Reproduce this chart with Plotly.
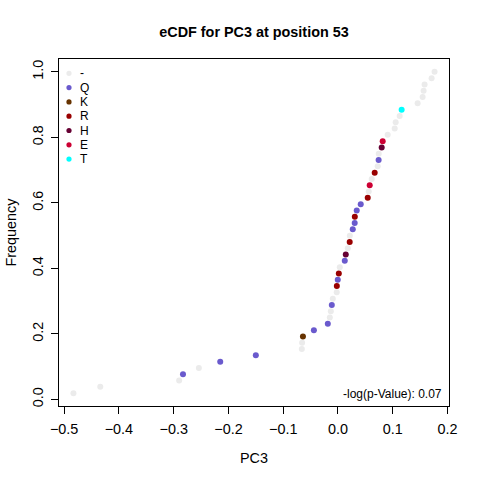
import numpy as np
import plotly.graph_objects as go

# PC3 values at position 53, sorted, with the residue seen at each
pc3 = [-0.483, -0.434, -0.290, -0.283, -0.254, -0.215, -0.150, -0.066, -0.0655, -0.064,
       -0.044, -0.0186, -0.0149, -0.0131, -0.0113, -0.0095, -0.0023, -0.0021, -0.0004, 0.0015,
       0.0033, 0.0124, 0.0142, 0.0179, 0.0214, 0.0216, 0.027, 0.0305, 0.0307, 0.0342,
       0.0415, 0.0543, 0.0561, 0.0579, 0.0616, 0.067, 0.0725, 0.0742, 0.0744, 0.0798,
       0.0816, 0.0907, 0.1035, 0.1053, 0.1126, 0.1162, 0.1454, 0.1545, 0.1563, 0.1581,
       0.1709, 0.1763]
residue = ["-", "-", "-", "Q", "-", "Q", "Q", "-", "-", "K",
           "Q", "Q", "-", "-", "Q", "-", "-", "R", "Q", "R",
           "-", "Q", "H", "-", "R", "-", "Q", "Q", "R", "Q",
           "Q", "R", "-", "E", "-", "R", "-", "Q", "-", "H",
           "E", "-", "-", "-", "-", "T", "-", "-", "-", "-",
           "-", "-"]

legend_labels = ["-", "Q", "K", "R", "H", "E", "T"]
legend_colors = ["#EBEBEB", "#6A5ACD", "#663300", "#990000", "#660033", "#CC0033", "#00FFFF"]
pvalue_text = "-log(p-Value): 0.07"

FONT = "Liberation Sans, Arial, sans-serif"

x = np.array(pc3)
order = np.argsort(x, kind="stable")
x = x[order]
res = [residue[i] for i in order]
n = len(x)
freq = np.arange(1, n + 1) / n   # empirical CDF
col_map = dict(zip(legend_labels, legend_colors))

fig = go.Figure()
fig.add_trace(go.Scatter(x=x, y=freq, mode="markers",
                         marker=dict(size=6, color=[col_map[r] for r in res], line=dict(width=0)),
                         showlegend=False, hoverinfo="x+y"))

# R-style 4% padding of the data range
xpad = 0.04 * (x.max() - x.min())
ypad = 0.04 * (freq.max() - freq.min())

L, R, T, B = 59, 31, 59, 74
W = H = 480
pw, ph = W - L - R, H - T - B

# legend (topleft, no box) drawn by hand to keep R's compact row spacing
shapes = []
annotations = []
for k, (lab, c) in enumerate(zip(legend_labels, legend_colors)):
    ypx = 73.3 + k * 14.3
    yp = 1 - (ypx - T) / ph
    xp = (69 - L) / pw
    shapes.append(dict(type="circle", xref="paper", yref="paper", xsizemode="pixel", ysizemode="pixel",
                       xanchor=xp, yanchor=yp, x0=-2.6, x1=2.6, y0=-2.6, y1=2.6,
                       fillcolor=c, line=dict(width=0)))
    annotations.append(dict(text=lab, xref="paper", yref="paper", x=(78 - L) / pw, y=yp,
                            xanchor="left", yanchor="middle", showarrow=False,
                            font=dict(family=FONT, size=12, color="black")))

annotations.append(dict(text=pvalue_text, xref="paper", yref="paper", x=(444 - L) / pw,
                        y=1 - (394 - T) / ph, xanchor="right", yanchor="middle", showarrow=False,
                        font=dict(family=FONT, size=12, color="black")))

# axis titles placed where R puts them
annotations.append(dict(text="PC3", xref="paper", yref="paper", x=0.5, y=1 - (458 - T) / ph,
                        xanchor="center", yanchor="middle", showarrow=False,
                        font=dict(family=FONT, size=14.4, color="black")))
annotations.append(dict(text="Frequency", xref="paper", yref="paper", x=(10 - L) / pw, y=0.5,
                        xanchor="center", yanchor="middle", textangle=-90, showarrow=False,
                        font=dict(family=FONT, size=14.4, color="black")))

axis_common = dict(showline=True, linecolor="black", linewidth=1, mirror=True, ticks="outside",
                   ticklen=7, tickcolor="black", tickwidth=1, showgrid=False, zeroline=False,
                   automargin=False, tickfont=dict(family=FONT, size=14.4, color="black"))

fig.update_layout(
    width=W, height=H,
    margin=dict(l=L, r=R, t=T, b=B),
    paper_bgcolor="white", plot_bgcolor="white",
    title=dict(text="eCDF for PC3 at position 53", x=0.5, xref="paper", xanchor="center",
               y=1 - 32 / H, yref="container", yanchor="middle",
               font=dict(family=FONT, size=14.4, color="black", weight="bold")),
    xaxis=dict(range=[x.min() - xpad, x.max() + xpad], tickvals=[-0.5, -0.4, -0.3, -0.2, -0.1, 0.0, 0.1, 0.2],
               tickformat=".1f", ticklabelstandoff=3, **axis_common),
    yaxis=dict(range=[freq.min() - ypad, freq.max() + ypad], tickvals=[0.0, 0.2, 0.4, 0.6, 0.8, 1.0],
               tickformat=".1f", tickangle=-90, ticklabelstandoff=2, **axis_common),
    shapes=shapes,
    annotations=annotations,
)

# drop the page's default body margin so the 480x480 figure sits at the window origin
fig.write_html("out.html", config={"displayModeBar": False},
               post_script="document.body.style.margin='0';")
